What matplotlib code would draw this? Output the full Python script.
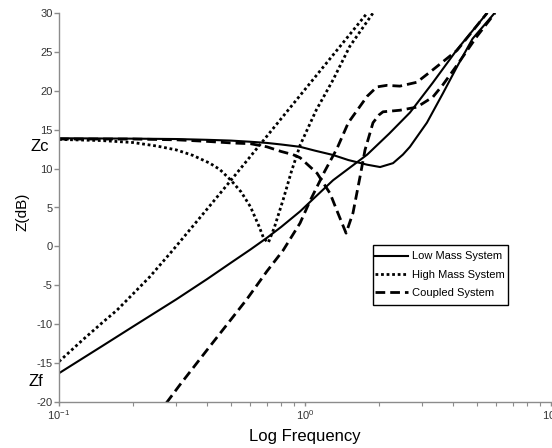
import numpy as np
import matplotlib
matplotlib.use("Agg")
import matplotlib.pyplot as plt
from matplotlib.ticker import LogLocator, FixedLocator, FuncFormatter
from matplotlib.patches import Rectangle

plt.rcParams['font.family'] = ['Liberation Sans', 'DejaVu Sans']
plt.rcParams['axes.unicode_minus'] = False
plt.rcParams['mathtext.fontset'] = 'custom'
plt.rcParams['mathtext.rm'] = 'Liberation Sans'
plt.rcParams['mathtext.it'] = 'Liberation Sans'

# ---- data ----
low_zc_f = [0.1, 0.2, 0.3, 0.4, 0.5, 0.6, 0.7, 0.8, 0.955, 1.1, 1.3, 1.5, 1.79, 2.02, 2.28, 2.5, 2.67, 3.13, 3.64, 4.15, 4.8, 5.9]
low_zc_z = [13.9, 13.85, 13.8, 13.7, 13.6, 13.45, 13.3, 13.1, 12.8, 12.3, 11.75, 11.1, 10.5, 10.2, 10.7, 11.8, 12.8, 15.9, 19.7, 23.1, 26.7, 30.0]

low_zf_f = [0.1, 0.15, 0.2, 0.3, 0.4, 0.5, 0.6, 0.7, 0.8, 0.955, 1.08, 1.3, 1.79, 2.2, 2.67, 3.3, 4.15, 5.5]
low_zf_z = [-16.3, -12.8, -10.3, -6.8, -4.2, -2.1, -0.4, 1.1, 2.5, 4.5, 6.1, 8.5, 11.8, 14.5, 17.2, 21.0, 25.3, 30.0]

high_zc_f = [0.1, 0.15, 0.2, 0.25, 0.3, 0.35, 0.41, 0.45, 0.5, 0.55, 0.6, 0.65, 0.68, 0.71, 0.75, 0.815, 0.88, 0.955, 1.11, 1.3, 1.52, 1.89]
high_zc_z = [13.75, 13.6, 13.35, 12.9, 12.4, 11.7, 10.7, 9.9, 8.5, 7.0, 5.1, 2.6, 1.0, 0.5, 2.4, 6.0, 9.6, 13.0, 17.5, 21.4, 25.7, 30.0]

high_zf_f = [0.1, 0.125, 0.15, 0.172, 0.2, 0.234, 0.29, 0.35, 0.4, 0.5, 0.955, 1.3, 1.79]
high_zf_z = [-14.8, -12.0, -9.8, -8.2, -6.1, -3.9, -0.5, 2.6, 4.8, 8.5, 19.4, 24.6, 30.0]

coup_zc_f = [0.1, 0.2, 0.3, 0.4, 0.5, 0.6, 0.7, 0.8, 0.893, 0.955, 1.12, 1.265, 1.36, 1.469, 1.567, 1.675, 1.754, 1.89, 2.0, 2.075, 2.43, 2.85, 3.31, 3.64, 4.15, 5.0, 5.92]
coup_zc_z = [13.8, 13.8, 13.7, 13.5, 13.3, 13.2, 12.8, 12.2, 11.8, 11.4, 9.4, 6.8, 4.3, 1.7, 4.3, 9.0, 12.4, 15.9, 16.9, 17.3, 17.5, 17.9, 19.2, 20.8, 23.3, 27.0, 30.0]

coup_zf_f = [0.25, 0.275, 0.31, 0.4, 0.5, 0.58, 0.7, 0.815, 0.955, 1.05, 1.2, 1.35, 1.5, 1.79, 1.96, 2.15, 2.43, 2.85, 3.31, 4.15, 5.5]
coup_zf_z = [-21.6, -20.0, -17.8, -13.3, -9.4, -6.8, -3.2, -0.5, 3.0, 5.9, 9.6, 12.6, 15.9, 19.3, 20.5, 20.7, 20.6, 21.1, 22.7, 25.2, 30.0]

y_ticks = [-20, -15, -10, -5, 0, 5, 10, 15, 20, 25, 30]
legend_labels = ['Low Mass System', 'High Mass System', 'Coupled System']

# ---- figure ----
fig = plt.figure(figsize=(5.52, 4.48), dpi=100)
ax = fig.add_axes([59/552, 1-402/448, 492/552, 389/448])

lw_solid = 1.5
lw_other = 2.0
l1, = ax.plot(low_zc_f, low_zc_z, color='black', lw=lw_solid, ls='-')
ax.plot(low_zf_f, low_zf_z, color='black', lw=lw_solid, ls='-')
l2, = ax.plot(high_zc_f, high_zc_z, color='black', lw=lw_other, ls=(0, (1, 1)))
ax.plot(high_zf_f, high_zf_z, color='black', lw=lw_other, ls=(0, (1, 1)))
l3, = ax.plot(coup_zc_f, coup_zc_z, color='black', lw=lw_other, ls=(0, (3.5, 1.8)))
ax.plot(coup_zf_f, coup_zf_z, color='black', lw=lw_other, ls=(0, (3.5, 1.8)))

ax.set_xscale('log')
ax.set_xlim(0.1, 10)
ax.set_ylim(-20, 30)
ax.yaxis.set_major_locator(FixedLocator(y_ticks))
ax.xaxis.set_major_locator(LogLocator(base=10, numticks=5))
ax.xaxis.set_minor_locator(LogLocator(base=10, subs=np.arange(2, 10), numticks=20))
ax.xaxis.set_major_formatter(FuncFormatter(lambda v, p: '10$^{%d}$' % int(round(np.log10(v)))))

for s in ['top', 'right']:
    ax.spines[s].set_visible(False)
for s in ['left', 'bottom']:
    ax.spines[s].set_color('#8c8c8c')
    ax.spines[s].set_linewidth(1.0)

ax.tick_params(axis='y', which='major', direction='out', length=3.5, width=1,
               color='#8c8c8c', labelsize=8, labelcolor='#333333', pad=1)
ax.tick_params(axis='x', which='major', direction='out', length=3, width=1,
               color='#8c8c8c', labelsize=8, labelcolor='#333333', pad=1.5)
ax.tick_params(axis='x', which='minor', direction='out', length=3, width=0.8,
               color='#8c8c8c')

ax.set_xlabel('Log Frequency', fontsize=12)
ax.xaxis.set_label_coords(0.5, -0.07)
ax.set_ylabel('Z(dB)', fontsize=11)
ax.yaxis.set_label_coords(-0.059, 0.49)

tr = matplotlib.transforms.blended_transform_factory(ax.transAxes, ax.transData)
ax.text(-0.04, 12.9, 'Zc', transform=tr, ha='center', va='center', fontsize=12, clip_on=False)
ax.text(-0.048, -17.4, 'Zf', transform=tr, ha='center', va='center', fontsize=12, clip_on=False)

leg = ax.legend([l1, l2, l3], legend_labels, loc='upper left',
                bbox_to_anchor=(0.6423, 0.387), borderaxespad=0, borderpad=0, fontsize=8,
                frameon=False, handlelength=3.0, handletextpad=0.36, labelspacing=0.75)
ax.add_patch(Rectangle((0.6382, 0.2494), 0.9126 - 0.6382, 0.4036 - 0.2494,
                       transform=ax.transAxes, fill=True, facecolor='white',
                       edgecolor='black', lw=1.0, zorder=4))
leg.set_zorder(5)

fig.savefig('out.png', dpi=100)
